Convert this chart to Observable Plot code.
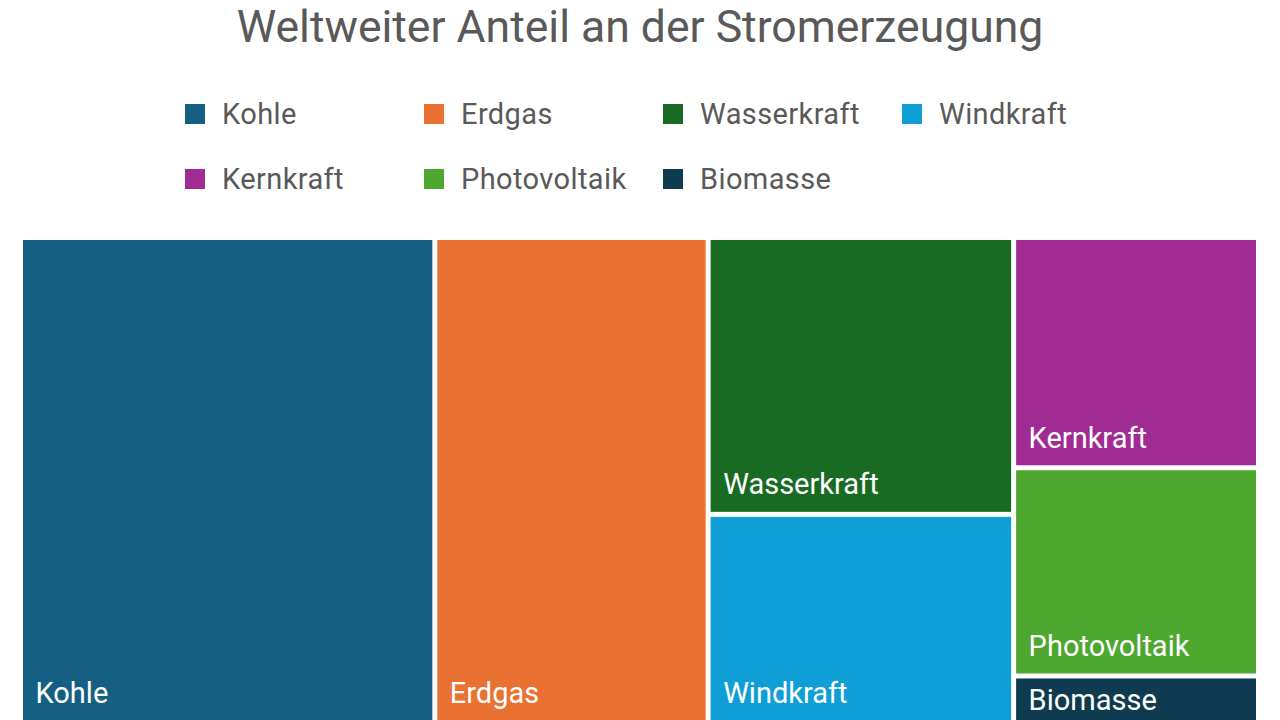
<!DOCTYPE html>
<html>
<head>
<meta charset="utf-8">
<script src="https://cdn.jsdelivr.net/npm/d3@7"></script>
<script src="https://cdn.jsdelivr.net/npm/@observablehq/plot@0.6"></script>
<style>
  html, body { margin: 0; padding: 0; background: #fff; }
  body { width: 1280px; height: 720px; overflow: hidden; position: relative; font-family: Roboto, "Noto Sans", sans-serif; }
  #title { position: absolute; top: 0; left: 0; width: 1280px; text-align: center; font-size: 44.5px; line-height: 54px; color: #595959; }
  .item { position: absolute; display: flex; align-items: center; height: 30px; font-size: 29px; letter-spacing: 0.4px; color: #595959; }
  .sw { width: 20px; height: 20px; margin-right: 17px; flex: none; }
  #chart { position: absolute; top: 240px; left: 0; }
</style>
</head>
<body>
<div id="title">Weltweiter Anteil an der Stromerzeugung</div>
<div id="legend"></div>
<div id="chart"></div>
<script>
const categories = ["Kohle", "Erdgas", "Wasserkraft", "Windkraft", "Kernkraft", "Photovoltaik", "Biomasse"];
const shares = [33.5, 22.1, 14.1, 10.6, 9.4, 8.5, 1.9];
const colors = ["#156082", "#E97132", "#196B24", "#0F9ED5", "#A02B93", "#4EA72E", "#0E3B50"];

// Legend (4 columns, 2 rows)
const legend = document.getElementById("legend");
categories.forEach((c, i) => {
  const col = i % 4, row = Math.floor(i / 4);
  const el = document.createElement("div");
  el.className = "item";
  el.style.left = (185 + col * 239) + "px";
  el.style.top = (99 + row * 65) + "px";
  el.innerHTML = `<span class="sw" style="background:${colors[i]}"></span><span>${c}</span>`;
  legend.appendChild(el);
});

// Treemap layout
const W = 1233, H = 480;
const root = d3.hierarchy({children: categories.map((name, i) => ({name, value: shares[i]}))})
  .sum(d => d.value || 0);
d3.treemap().tile(d3.treemapSquarify.ratio(1)).size([W, H]).paddingInner(5)(root);
const leaves = root.leaves().map(d => ({
  name: d.data.name, x0: d.x0, x1: d.x1, y0: d.y0, y1: d.y1
}));

const chart = Plot.plot({
  width: 1280,
  height: 480,
  marginLeft: 23,
  marginRight: 24,
  marginTop: 0,
  marginBottom: 0,
  x: {domain: [0, W], range: [23, 1256], axis: null},
  y: {domain: [0, H], range: [0, H], axis: null},
  color: {domain: categories, range: colors},
  style: {background: "transparent", fontFamily: "Roboto, 'Noto Sans', sans-serif"},
  marks: [
    Plot.rect(leaves, {x1: "x0", x2: "x1", y1: "y0", y2: "y1", fill: "name"}),
    Plot.text(leaves, {
      x: d => d.x0 + 12,
      y: d => Math.max(d.y1 - 18, d.y0 + 31),
      text: "name",
      fill: "white",
      textAnchor: "start",
      lineAnchor: "bottom",
      fontSize: 29,
      letterSpacing: 0.4
    })
  ]
});
document.getElementById("chart").appendChild(chart);
</script>
</body>
</html>
